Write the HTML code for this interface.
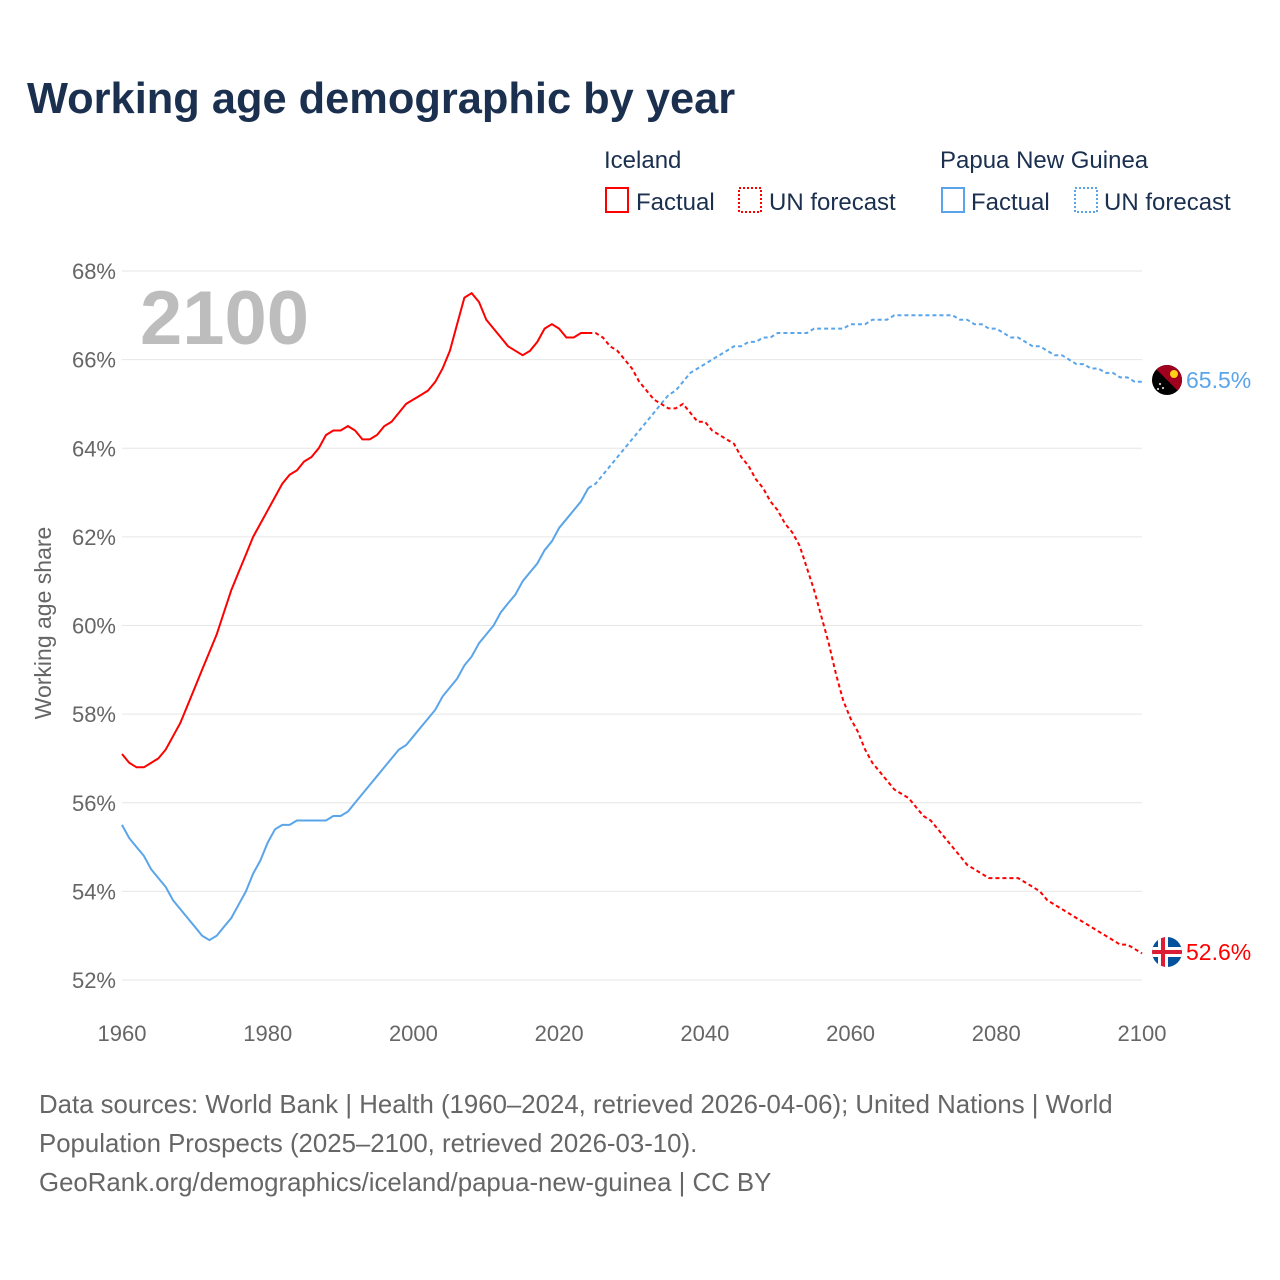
<!DOCTYPE html>
<html><head><meta charset="utf-8">
<style>
body{margin:0;background:#fff;width:1280px;height:1280px;overflow:hidden;font-family:"Liberation Sans",sans-serif}
svg{display:block}
</style></head>
<body>
<svg id="chart" width="1280" height="1280" viewBox="0 0 1280 1280">
<text x="27" y="113" font-size="43.4" font-weight="bold" fill="#1b2f4f">Working age demographic by year</text>
<g font-size="24" fill="#1b2f4f">
<text x="604" y="168">Iceland</text>
<rect x="606" y="188" width="22" height="24" fill="none" stroke="#f00" stroke-width="2"/>
<text x="636" y="210">Factual</text>
<rect x="739" y="188" width="22" height="24" fill="none" stroke="#f00" stroke-width="2" stroke-dasharray="2,2"/>
<text x="769" y="210">UN forecast</text>
<text x="940" y="168">Papua New Guinea</text>
<rect x="942" y="188" width="22" height="24" fill="none" stroke="#5aa5ea" stroke-width="2"/>
<text x="971" y="210">Factual</text>
<rect x="1075" y="188" width="22" height="24" fill="none" stroke="#5aa5ea" stroke-width="2" stroke-dasharray="2,2"/>
<text x="1104" y="210">UN forecast</text>
</g>
<g id="grid"></g>
<text x="140" y="344" font-size="76" font-weight="bold" fill="#bdbdbd">2100</text>
<text transform="translate(51,623) rotate(-90)" text-anchor="middle" font-size="23" fill="#666">Working age share</text>
<g id="series"></g>
<defs>
<clipPath id="c1"><circle cx="1167" cy="380" r="15"/></clipPath>
<clipPath id="c2"><circle cx="1167" cy="952" r="15"/></clipPath>
</defs>
<g clip-path="url(#c1)">
<rect x="1150" y="363" width="34" height="34" fill="#000"/>
<polygon points="1150,363 1184,363 1184,397" fill="#a0001e"/>
<circle cx="1174" cy="374" r="4" fill="#fcd116"/>
<circle cx="1160" cy="384" r="1" fill="#fff"/><circle cx="1163" cy="388" r="1" fill="#fff"/><circle cx="1158" cy="389" r="1" fill="#fff"/>
</g>
<g clip-path="url(#c2)">
<rect x="1150" y="935" width="34" height="34" fill="#02529c"/>
<rect x="1150" y="947" width="34" height="10" fill="#fff"/><rect x="1158" y="935" width="10" height="34" fill="#fff"/>
<rect x="1150" y="950" width="34" height="4" fill="#dc1e35"/><rect x="1161" y="935" width="4" height="34" fill="#dc1e35"/>
</g>
<text x="1186" y="388" font-size="23" fill="#5aa5ea">65.5%</text>
<text x="1186" y="960" font-size="23" fill="#f00">52.6%</text>
<text font-size="25.8" fill="#666">
<tspan x="39" y="1113">Data sources: World Bank | Health (1960–2024, retrieved 2026-04-06); United Nations | World</tspan>
<tspan x="39" y="1152">Population Prospects (2025–2100, retrieved 2026-03-10).</tspan>
<tspan x="39" y="1191">GeoRank.org/demographics/iceland/papua-new-guinea | CC BY</tspan>
</text>
</svg>
<script>
const startYear = 1960;
const lastFactualYear = 2024;
const yTicks = [52,54,56,58,60,62,64,66,68];
const xTicks = [1960,1980,2000,2020,2040,2060,2080,2100];
const iceland = [57.1,56.9,56.8,56.8,56.9,57.0,57.2,57.5,57.8,58.2,58.6,59.0,59.4,59.8,60.3,60.8,61.2,61.6,62.0,62.3,62.6,62.9,63.2,63.4,63.5,63.7,63.8,64.0,64.3,64.4,64.4,64.5,64.4,64.2,64.2,64.3,64.5,64.6,64.8,65.0,65.1,65.2,65.3,65.5,65.8,66.2,66.8,67.4,67.5,67.3,66.9,66.7,66.5,66.3,66.2,66.1,66.2,66.4,66.7,66.8,66.7,66.5,66.5,66.6,66.6,
66.6,66.5,66.3,66.2,66.0,65.8,65.5,65.3,65.1,65.0,64.9,64.9,65.0,64.8,64.6,64.6,64.4,64.3,64.2,64.1,63.8,63.6,63.3,63.1,62.8,62.6,62.3,62.1,61.8,61.3,60.8,60.2,59.6,58.9,58.3,57.9,57.6,57.2,56.9,56.7,56.5,56.3,56.2,56.1,55.9,55.7,55.6,55.4,55.2,55.0,54.8,54.6,54.5,54.4,54.3,54.3,54.3,54.3,54.3,54.2,54.1,54.0,53.8,53.7,53.6,53.5,53.4,53.3,53.2,53.1,53.0,52.9,52.8,52.8,52.7,52.6];
const papuaNewGuinea = [55.5,55.2,55.0,54.8,54.5,54.3,54.1,53.8,53.6,53.4,53.2,53.0,52.9,53.0,53.2,53.4,53.7,54.0,54.4,54.7,55.1,55.4,55.5,55.5,55.6,55.6,55.6,55.6,55.6,55.7,55.7,55.8,56.0,56.2,56.4,56.6,56.8,57.0,57.2,57.3,57.5,57.7,57.9,58.1,58.4,58.6,58.8,59.1,59.3,59.6,59.8,60.0,60.3,60.5,60.7,61.0,61.2,61.4,61.7,61.9,62.2,62.4,62.6,62.8,63.1,
63.2,63.4,63.6,63.8,64.0,64.2,64.4,64.6,64.8,65.0,65.2,65.3,65.5,65.7,65.8,65.9,66.0,66.1,66.2,66.3,66.3,66.4,66.4,66.5,66.5,66.6,66.6,66.6,66.6,66.6,66.7,66.7,66.7,66.7,66.7,66.8,66.8,66.8,66.9,66.9,66.9,67.0,67.0,67.0,67.0,67.0,67.0,67.0,67.0,67.0,66.9,66.9,66.8,66.8,66.7,66.7,66.6,66.5,66.5,66.4,66.3,66.3,66.2,66.1,66.1,66.0,65.9,65.9,65.8,65.8,65.7,65.7,65.6,65.6,65.5,65.5];

const NS='http://www.w3.org/2000/svg';
const xs = yr => 122 + (yr-1960)*(1142-122)/140;
const ys = v => 980 - (v-52)*(980-271)/16;
const grid = document.getElementById('grid');
yTicks.forEach(t=>{
  const l=document.createElementNS(NS,'line');
  l.setAttribute('x1',122);l.setAttribute('x2',1142);l.setAttribute('y1',ys(t));l.setAttribute('y2',ys(t));
  l.setAttribute('stroke','#e6e6e6');l.setAttribute('stroke-width','1');
  
  
  grid.appendChild(l);
  const tx=document.createElementNS(NS,'text');
  tx.setAttribute('x',116);tx.setAttribute('y',ys(t)+8);tx.setAttribute('text-anchor','end');
  tx.setAttribute('font-size','22');tx.setAttribute('fill','#666');tx.textContent=t+'%';
  
  
  grid.appendChild(tx);
});
xTicks.forEach(t=>{
  const tx=document.createElementNS(NS,'text');
  tx.setAttribute('x',xs(t));tx.setAttribute('y',1041);tx.setAttribute('text-anchor','middle');
  tx.setAttribute('font-size','22');tx.setAttribute('fill','#666');tx.textContent=t;
  
  
  grid.appendChild(tx);
});
const sg=document.getElementById('series');
function draw(vals,color,name){
  const split=lastFactualYear-startYear;
  const pts=vals.map((v,i)=>xs(startYear+i).toFixed(1)+','+ys(v).toFixed(1));
  const f=document.createElementNS(NS,'polyline');
  f.setAttribute('points',pts.slice(0,split+1).join(' '));
  f.setAttribute('fill','none');f.setAttribute('stroke',color);f.setAttribute('stroke-width','2');
  
  
  sg.appendChild(f);
  const d=document.createElementNS(NS,'polyline');
  d.setAttribute('points',pts.slice(split).join(' '));
  d.setAttribute('fill','none');d.setAttribute('stroke',color);d.setAttribute('stroke-width','2');d.setAttribute('stroke-dasharray','4,3');
  
  
  sg.appendChild(d);
}
draw(papuaNewGuinea,'#5aa5ea','png');
draw(iceland,'#ff0000','iceland');
</script>
</body></html>
